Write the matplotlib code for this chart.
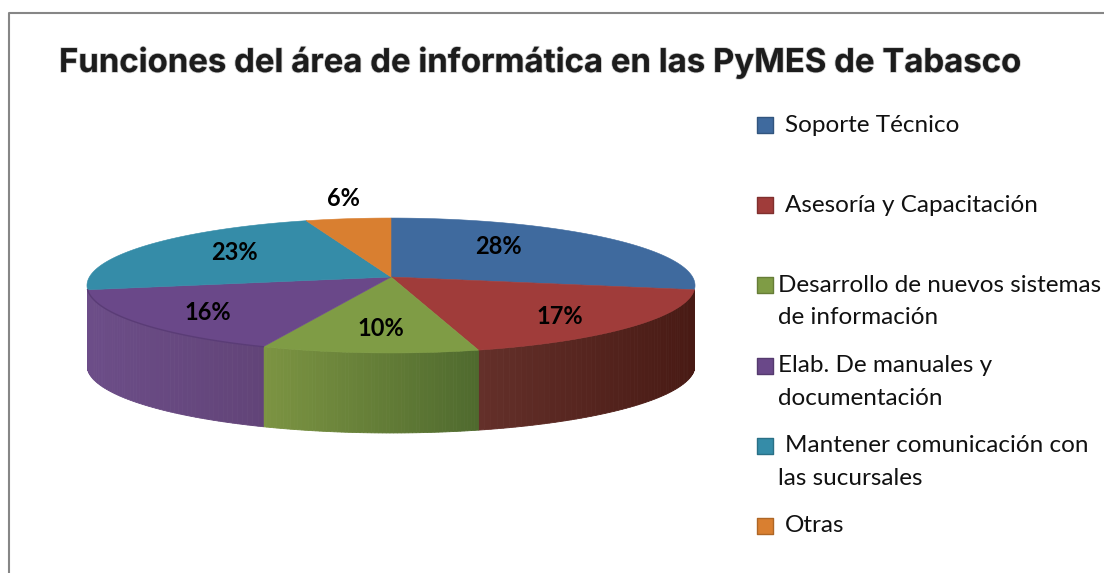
import numpy as np
import matplotlib
matplotlib.use("Agg")
import matplotlib.pyplot as plt
import matplotlib.patheffects as pe
from matplotlib.colors import to_rgb

title = "Funciones del área de informática en las PyMES de Tabasco"

# Printed percentages, and the shares as the slices are actually drawn in the picture
pct_labels = ["28%", "17%", "10%", "16%", "23%", "6%"]
shares = [28.0, 17.9, 10.2, 15.9, 22.9, 5.1]

legend_lines = [
    ["Soporte Técnico"],
    ["Asesoría y Capacitación"],
    ["Desarrollo de nuevos sistemas", "de información"],
    ["Elab. De manuales y", "documentación"],
    ["Mantener comunicación con", "las sucursales"],
    ["Otras"],
]

top_colors = ["#3f6a9e", "#a03c3a", "#7f9c45", "#6a4889", "#358ca8", "#d97f30"]
side_left = ["#3f6a9e", "#64302a", "#7c9442", "#6c4d88", "#358ca8", "#d97f30"]
side_right = ["#3f6a9e", "#481a14", "#4f6a2e", "#624478", "#358ca8", "#d97f30"]

# Pie geometry in pixels
cx, cy = 391, 277
rx, ry = 301.6, 66.4
persp = 0.126
depth = 80


def project(theta):
    # clockwise angle from the top, with a little perspective towards the viewer
    x = np.sin(theta)
    y = -np.cos(theta)
    s = 1 / (1 - persp * y)
    return cx + rx * x * s, cy + ry * y * s


fig = plt.figure(figsize=(11.04, 5.73), dpi=100)
ax = fig.add_axes([0, 0, 1, 1])
ax.set_xlim(0, 1104)
ax.set_ylim(573, 0)
ax.axis("off")

# Chart border
ax.plot([8.5, 8.5, 1104], [573, 12.5, 12.5], color="#868686", lw=1.5)

edges = np.cumsum([0] + shares) / sum(shares) * 2 * np.pi

# Side wall (red, green, purple slices), drawn as thin strips so the shading can run along it
for i in [1, 2, 3]:
    a, b = edges[i], edges[i + 1]
    t = np.linspace(a, b, 60)
    c0 = np.array(to_rgb(side_left[i]))
    c1 = np.array(to_rgb(side_right[i]))
    for j in range(len(t) - 1):
        x, y = project(t[j:j + 2])
        xs = [x[0], x[1], x[1], x[0]]
        ys = [y[0], y[1], y[1] + depth, y[0] + depth]
        frac = (x.mean() - project(b)[0]) / (project(a)[0] - project(b)[0])
        col = c0 + (c1 - c0) * frac
        ax.fill(xs, ys, color=tuple(col), lw=0.6, zorder=2)

# Top face
for i in range(len(shares)):
    t = np.linspace(edges[i], edges[i + 1], 120)
    x, y = project(t)
    ax.fill(np.r_[cx, x], np.r_[cy, y], color=top_colors[i], lw=0.4, zorder=3)

# faint crease between the purple top and its wall
x, y = project(np.linspace(edges[3], edges[4], 80))
ax.plot(x, y, color="#5a3c76", lw=1, zorder=4)

# Percent labels
label_xy = [(498, 246), (560, 317), (381, 328), (208, 313), (234, 253), (343, 198)]
for txt, (lx, ly) in zip(pct_labels, label_xy):
    ax.text(lx, ly, txt, family="Lato", weight="bold", fontsize=17, color="black",
            ha="center", va="center", zorder=5)

ax.text(59, 63, title, family="Inter", weight="bold", fontsize=23.7, color="#1c1c1c",
        ha="left", va="center",
        path_effects=[pe.withStroke(linewidth=1.2, foreground="#9a9a9a", alpha=0.5)])

# Legend
marker_y = [125, 205, 285, 366, 446, 526]
text_x = [785, 785, 778, 778, 785, 785]
wrap_x = 778
line_gap = 32.5
for i, lines in enumerate(legend_lines):
    ax.scatter([765], [marker_y[i]], marker="s", s=125, color=top_colors[i],
               edgecolor=tuple(np.array(to_rgb(top_colors[i])) * 0.8), linewidth=1, zorder=4)
    for k, line in enumerate(lines):
        ax.text(text_x[i] if k == 0 else wrap_x, marker_y[i] + k * line_gap, line,
                family="Lato", fontsize=17.5, color="#111111", ha="left", va="center")

fig.savefig("out.png", dpi=100)
